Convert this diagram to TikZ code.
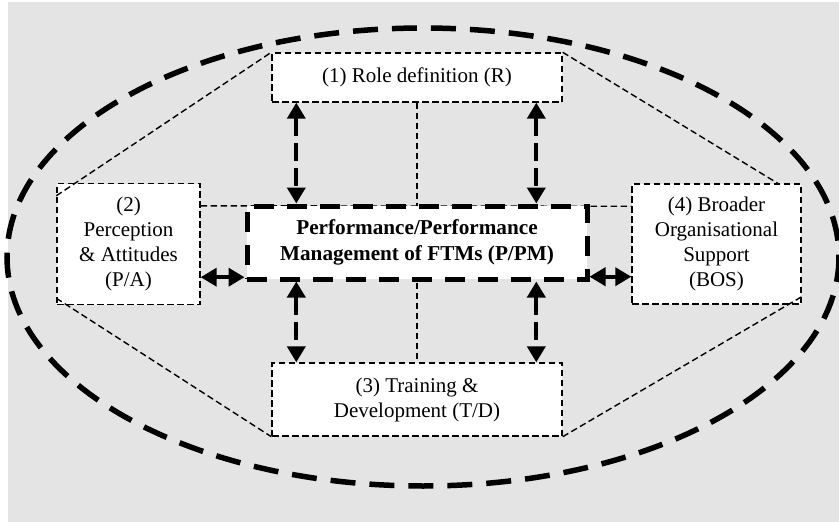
\documentclass[tikz,border=0pt]{standalone}
\usepackage{fontspec}
\setmainfont{Liberation Serif}
\usetikzlibrary{arrows.meta,calc}
\definecolor{bggray}{HTML}{E4E4E4}
\tikzset{
  thindash/.style={line width=1.4pt,dash pattern=on 6.5pt off 3.5pt},
  boxnode/.style={thindash,draw=black,fill=white,inner sep=0pt,align=center,
    font=\fontsize{21}{25}\selectfont},
  corebox/.style={draw=black,fill=white,line width=5pt,dash pattern=on 20pt off 13pt,
    inner sep=0pt,align=center,font=\fontsize{21.2}{26}\selectfont\bfseries},
  biarrow/.style={line width=3.8pt,{Triangle[length=16pt,width=18pt]}-{Triangle[length=16pt,width=18pt]}},
  dasharrow/.style={biarrow,dash pattern=on 18pt off 7pt},
  bigring/.style={line width=5.5pt,dash pattern=on 25pt off 14pt}
}
\begin{document}
\begin{tikzpicture}[x=1pt,y=-1pt]
\useasboundingbox (0,0) rectangle (839,522);
\fill[white] (0,0) rectangle (839,522);
\fill[bggray] (8,2) rectangle (839,522);
% outer ellipse
\draw[bigring] (423,257) ellipse [x radius=416, y radius=229];
% boxes
\node[boxnode,minimum width=290pt,minimum height=49pt] (b1) at (417,77.5) {(1) Role definition (R)};
\node[boxnode,minimum width=143pt,minimum height=121pt] (b2) at (128.5,244) {(2)\\Perception\\\& Attitudes\\(P/A)};
\node[boxnode,minimum width=290pt,minimum height=73pt] (b3) at (417,399.5) {(3) Training \&\\Development (T/D)};
\node[boxnode,minimum width=169pt,minimum height=120pt] (b4) at (716.5,244) {(4) Broader\\Organisational\\Support\\(BOS)};
% thin dashed connectors
\draw[thindash] ($(b2.north west)+(0,13)$) -- (b1.north west);
\draw[thindash] (b1.north east) -- ($(b4.north east)+(-24,0)$);
\draw[thindash] ($(b2.south west)+(0,-7)$) -- (b3.south west);
\draw[thindash] (b3.south east) -- ($(b4.south east)+(0,-8)$);
\draw[thindash] ($(b2.north east)+(0,23)$) -- ($(b4.north west)+(0,23)$);
\draw[thindash] (b1.south) -- (b3.north);
% core box
\node[corebox,minimum width=340pt,minimum height=73pt] (c) at (417,242.5) {Performance/Performance\\Management of FTMs (P/PM)};
% arrows
\draw[dasharrow] ($(b1.south west)+(25,0)$) -- (c.north -| {$(b1.south west)+(25,0)$});
\draw[dasharrow] ($(b1.south west)+(265,0)$) -- (c.north -| {$(b1.south west)+(265,0)$});
\draw[dasharrow] (c.south -| {$(b3.north west)+(25,0)$}) -- ($(b3.north west)+(25,0)$);
\draw[dasharrow] (c.south -| {$(b3.north west)+(265,0)$}) -- ($(b3.north west)+(265,0)$);
\draw[biarrow] ($(b2.south east)+(0,-28)$) -- (c.west |- {$(b2.south east)+(0,-28)$});
\draw[biarrow] (c.east |- {$(b4.south west)+(0,-28)$}) -- ($(b4.south west)+(0,-28)$);
\end{tikzpicture}
\end{document}
